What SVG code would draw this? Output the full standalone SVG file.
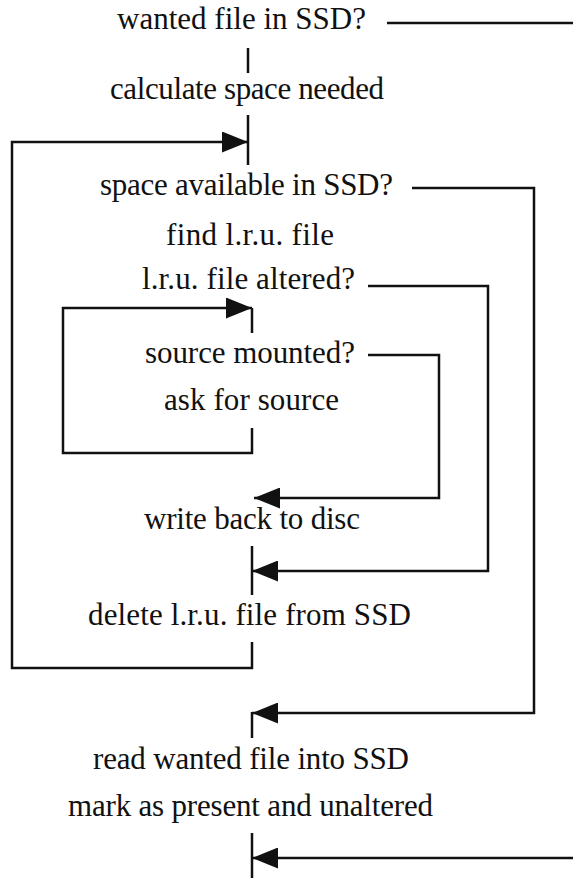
<svg xmlns="http://www.w3.org/2000/svg" width="573" height="878" viewBox="0 0 573 878">
<style>
  .t { font-family: 'Liberation Serif', 'DejaVu Serif', serif; font-size: 31px; fill: #111; text-anchor: middle; }
  .ln { fill: none; stroke: #111; stroke-width: 2.5; stroke-linecap: butt; stroke-linejoin: miter; }
</style>
<defs>
  <marker id="ah" viewBox="0 0 26 21" markerUnits="userSpaceOnUse" markerWidth="26" markerHeight="21" refX="26" refY="10.5" orient="auto">
    <path d="M0,0 L26,10.5 L0,21 Z" fill="#111"/>
  </marker>
</defs>
<rect width="573" height="878" fill="#fff"/>
<g id="connectors">
  <path class="ln" d="M387,23 H573"/>
  <path class="ln" d="M573,858 H252" marker-end="url(#ah)"/>
  <path class="ln" d="M252,833 V878"/>
  <path class="ln" d="M248,48 V73"/>
  <path class="ln" d="M248,115 V165"/>
  <path class="ln" d="M252,642 V668 H12 V142 H248" marker-end="url(#ah)"/>
  <path class="ln" d="M412,188 H534 V713 H252" marker-end="url(#ah)"/>
  <path class="ln" d="M252,712 V738"/>
  <path class="ln" d="M368,286 H488 V571 H252" marker-end="url(#ah)"/>
  <path class="ln" d="M252,546 V595"/>
  <path class="ln" d="M252,428 V453 H63 V308 H252" marker-end="url(#ah)"/>
  <path class="ln" d="M252,308 V333"/>
  <path class="ln" d="M368,355 H439 V498 H254" marker-end="url(#ah)"/>
</g>
<g id="n1"><text class="t" x="241.5" y="29" textLength="249" lengthAdjust="spacing">wanted file in SSD?</text></g>
<g id="n2"><text class="t" x="247" y="99" textLength="274" lengthAdjust="spacing">calculate space needed</text></g>
<g id="n3"><text class="t" x="246.5" y="195" textLength="293" lengthAdjust="spacing">space available in SSD?</text></g>
<g id="n4"><text class="t" x="250" y="245" textLength="168" lengthAdjust="spacing">find l.r.u. file</text></g>
<g id="n5"><text class="t" x="248.5" y="289" textLength="213" lengthAdjust="spacing">l.r.u. file altered?</text></g>
<g id="n6"><text class="t" x="250" y="363" textLength="210" lengthAdjust="spacing">source mounted?</text></g>
<g id="n7"><text class="t" x="251.5" y="410" textLength="175" lengthAdjust="spacing">ask for source</text></g>
<g id="n8"><text class="t" x="252" y="529" textLength="216" lengthAdjust="spacing">write back to disc</text></g>
<g id="n9"><text class="t" x="249.5" y="625" textLength="323" lengthAdjust="spacing">delete l.r.u. file from SSD</text></g>
<g id="n10"><text class="t" x="251" y="769" textLength="316" lengthAdjust="spacing">read wanted file into SSD</text></g>
<g id="n11"><text class="t" x="250.5" y="816" textLength="365" lengthAdjust="spacing">mark as present and unaltered</text></g>
</svg>
